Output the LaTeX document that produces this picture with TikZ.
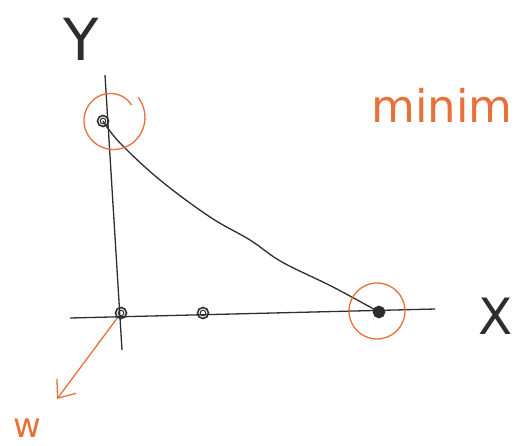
\documentclass[tikz,border=0pt]{standalone}
\usepackage{fontspec}
\setmainfont{DejaVu Sans}
\usetikzlibrary{arrows.meta}
\definecolor{ink}{RGB}{45,45,45}
\definecolor{redink}{RGB}{232,112,58}

\begin{document}
\begin{tikzpicture}[x=1pt,y=-1pt,line width=1.3pt,
    dot/.style={circle,draw=ink,line width=1.6pt,inner sep=0pt,minimum size=11pt},
    label/.style={font=\fontsize{#1}{#1}\selectfont,anchor=base,inner sep=0pt}]
    \useasboundingbox (0,0) rectangle (516,445);

    % axes
    \coordinate (ytop) at (105,75);
    \coordinate (ybot) at (122,350);
    \coordinate (xleft) at (70,318);
    \coordinate (xright) at (435,309);
    \draw[ink] (ytop) -- (ybot);
    \draw[ink] (xleft) -- (xright);

    % points
    \node[dot] (a) at (103,121) {};
    \node[dot] (o) at (121,313) {};
    \node[dot] (m) at (203,313) {};
    \node[dot,fill=ink] (b) at (379,312) {};
    \foreach \p in {a,o,m} {
        \draw[ink,line width=1pt] (\p) circle(2.8);
    }

    \draw[ink] plot[smooth,tension=0.6] coordinates
        {(a.center) (120,143) (160,180) (210,217) (250,240) (282,262) (333,287) (b.center)};

    % circled minima
    \draw[redink] plot[domain=36:400,samples=80,smooth]
        ({112+(24+10*(\x-36)/364)*cos(\x)},{119-(24+10*(\x-36)/364)*sin(\x)});
    \draw[redink] (377,311) circle(28);

    \node[redink,label=45] (minim) at (442,122) {minim};

    % arrow
    \coordinate (wtip) at (57,399);
    \draw[redink,-{Straight Barb[length=15pt,width=24pt]}] (o) -- (wtip);

    \node[redink,label=34] (w) at (27,437) {w};
    \node[ink,label=58] (ylab) at (81,60) {Y};
    \node[ink,label=50] (xlab) at (496,334) {X};
\end{tikzpicture}
\end{document}
